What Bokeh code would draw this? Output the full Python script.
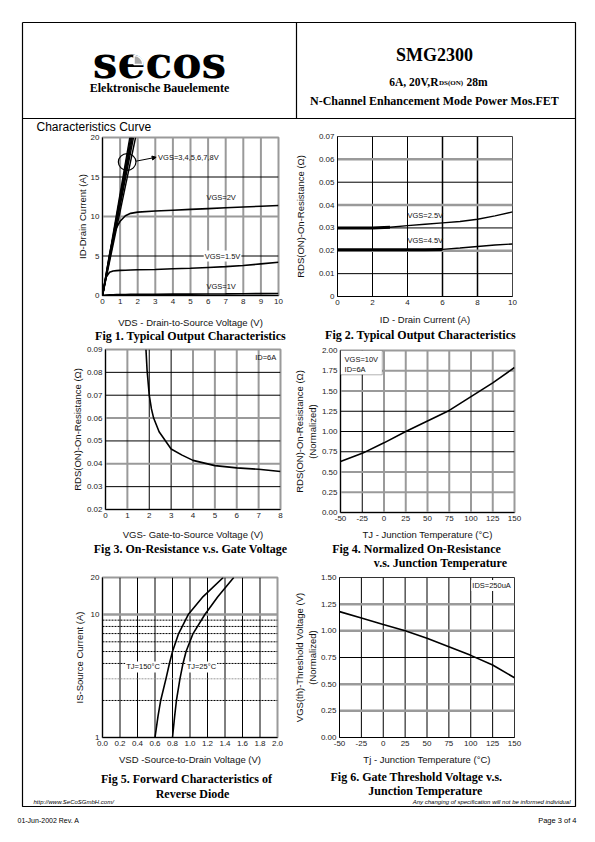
import math
from bokeh.plotting import figure
from bokeh.models import Range1d, Span, Label, FixedTicker, BoxAnnotation, Arrow, NormalHead
from bokeh.core.properties import value
from bokeh.embed import file_html
from bokeh.resources import INLINE

SANS = "Liberation Sans"
SERIF = "Liberation Serif"
GRAY = "#9a9a9a"

# ---------------- data ----------------
# Fig 1  Typical Output Characteristics
fig1_x_ticks = ["0", "1", "2", "3", "4", "5", "6", "7", "8", "9", "10"]
fig1_y_ticks = ["0", "5", "10", "15", "20"]
fig1_vds = [0, 0.2, 0.4, 0.6, 0.8, 1.0, 1.3, 1.6, 2.0, 3.0, 4.0, 5.0, 6.0, 7.0, 8.0, 9.0, 10.0]
fig1_id_vgs2 = [0, 2.6, 5.2, 7.3, 8.6, 9.4, 10.1, 10.4, 10.55, 10.7, 10.8, 10.9, 11.0, 11.1, 11.2, 11.3, 11.4]
fig1_id_vgs15 = [0, 2.3, 2.95, 3.1, 3.15, 3.18, 3.2, 3.22, 3.25, 3.3, 3.38, 3.45, 3.55, 3.65, 3.8, 4.0, 4.2]
fig1_id_vgs1 = [0, 0.05, 0.08, 0.1, 0.11, 0.12, 0.13, 0.14, 0.15, 0.16, 0.17, 0.18, 0.19, 0.2, 0.22, 0.24, 0.26]
fig1_vds_high = [1.55, 1.6, 1.65, 1.7, 1.76, 1.88]   # VGS=3..8V lines reach 20 A here
fig1_id_high = [0, 20]
fig1_labels = ["VGS=3,4,5,6,7,8V", "VGS=2V", "VGS=1.5V", "VGS=1V"]

# Fig 2  RDS(on) vs ID
fig2_x_ticks = ["0", "2", "4", "6", "8", "10"]
fig2_y_ticks = ["0", "0.01", "0.02", "0.03", "0.04", "0.05", "0.06", "0.07"]
fig2_id = [0, 1, 2, 3, 4, 5, 6, 7, 8, 9, 10]
fig2_r_vgs25 = [0.0300, 0.0300, 0.0300, 0.0303, 0.0310, 0.0316, 0.0322, 0.0328, 0.0338, 0.0353, 0.0370]
fig2_r_vgs45 = [0.0205, 0.0205, 0.0205, 0.0205, 0.0205, 0.0205, 0.0206, 0.0212, 0.0219, 0.0225, 0.0230]
fig2_labels = ["VGS=2.5V", "VGS=4.5V"]

# Fig 3  RDS(on) vs VGS
fig3_x_ticks = ["0", "1", "2", "3", "4", "5", "6", "7", "8"]
fig3_y_ticks = ["0.02", "0.03", "0.04", "0.05", "0.06", "0.07", "0.08", "0.09"]
fig3_vgs = [1.85, 1.9, 2.0, 2.1, 2.2, 2.45, 3.0, 3.5, 4.0, 5.0, 6.0, 7.0, 8.0]
fig3_r = [0.090, 0.081, 0.070, 0.064, 0.060, 0.054, 0.0465, 0.0438, 0.0415, 0.0392, 0.0382, 0.0376, 0.0366]
fig3_label = "ID=6A"

# Fig 4  normalized RDS(on) vs TJ
fig4_x_ticks = ["-50", "-25", "0", "25", "50", "75", "100", "125", "150"]
fig4_y_ticks = ["0.00", "0.25", "0.50", "0.75", "1.00", "1.25", "1.50", "1.75", "2.00"]
fig4_tj = [-50, -25, 0, 25, 50, 75, 100, 125, 150]
fig4_r = [0.63, 0.73, 0.86, 1.00, 1.13, 1.26, 1.43, 1.60, 1.79]
fig4_labels = ["VGS=10V", "ID=6A"]

# Fig 5  diode forward characteristics
fig5_x_ticks = ["0.0", "0.2", "0.4", "0.6", "0.8", "1.0", "1.2", "1.4", "1.6", "1.8", "2.0"]
fig5_y_ticks = ["1", "10", "20"]
fig5_y_minor = [2, 3, 4, 5, 6, 7, 8, 9]
fig5_is = [1, 1.5, 2, 3, 4, 5, 7, 10, 14, 20]
fig5_vsd_150 = [0.60, 0.635, 0.665, 0.725, 0.765, 0.80, 0.87, 0.98, 1.15, 1.38]
fig5_vsd_25 = [0.80, 0.825, 0.845, 0.885, 0.92, 0.955, 1.035, 1.17, 1.32, 1.50]
fig5_labels = ["TJ=150°C", "TJ=25°C"]

# Fig 6  normalized VGS(th) vs TJ
fig6_x_ticks = ["-50", "-25", "0", "25", "50", "75", "100", "125", "150"]
fig6_y_ticks = ["0.00", "0.25", "0.50", "0.75", "1.00", "1.25", "1.50"]
fig6_tj = [-50, -25, 0, 25, 50, 75, 100, 125, 150]
fig6_vth = [1.18, 1.12, 1.06, 1.00, 0.93, 0.85, 0.77, 0.68, 0.56]
fig6_label = "IDS=250uA"

# ---------------- helpers ----------------
BL, BT, BR, BB = 60, 6, 8, 45


def make_chart(frame, xticks, yticks, xlabel, ylabel, xs_off, ys_off, y_log=False,
               outline=GRAY, outline_w=2):
    L, T, W, H = frame
    xv = [float(t) for t in xticks]
    yv = [float(t) for t in yticks]
    p = figure(frame_width=W, frame_height=H,
               x_range=Range1d(xv[0], xv[-1]), y_range=Range1d(yv[0], yv[-1]),
               y_axis_type="log" if y_log else "linear",
               output_backend="svg", toolbar_location=None,
               min_border_left=BL, min_border_top=BT, min_border_right=BR, min_border_bottom=BB,
               background_fill_color=None, border_fill_color=None,
               outline_line_color=outline, outline_line_width=outline_w,
               styles={"position": "absolute", "left": f"{L - BL}px", "top": f"{T - BT}px"})
    p.grid.visible = False
    for ax, vals, ticks, lab, off in ((p.xaxis[0], xv, xticks, xlabel, xs_off),
                                      (p.yaxis[0], yv, yticks, ylabel, ys_off)):
        ax.ticker = FixedTicker(ticks=vals, minor_ticks=[])
        ax.major_label_overrides = {v: t for v, t in zip(vals, ticks)}
        ax.major_tick_in = 0
        ax.major_tick_out = 0
        ax.minor_tick_line_color = None
        ax.major_label_text_font = SANS
        ax.major_label_text_font_size = "8px"
        ax.major_label_text_color = "#222222"
        ax.major_label_standoff = 3
        ax.axis_label = lab
        ax.axis_label_text_font = SANS
        ax.axis_label_text_font_size = "9.5px"
        ax.axis_label_text_font_style = "normal"
        ax.axis_label_text_color = "#111111"
        ax.axis_label_standoff = int(off)
        ax.axis_line_color = "black"
        ax.axis_line_width = 1
    return p


def grid(p, dim, locs, colors, widths, dashes=None):
    for i, loc in enumerate(locs):
        p.add_layout(Span(location=loc, dimension=dim, line_color=colors[i],
                          line_width=widths[i],
                          line_dash=(dashes[i] if dashes else "solid"), level="underlay"))


def label(p, x, y, text, align="left", bg=None, size="7.5px"):
    p.add_layout(Label(x=x, y=y, text=text, text_font=SANS, text_font_size=size,
                       text_align=align, text_baseline="middle", text_color="#111111",
                       background_fill_color=bg, padding=1))


def inner(ticks):
    return [float(t) for t in ticks[1:-1]]


# ---------------- Fig 1 ----------------
p1 = make_chart((102, 137, 176, 158), fig1_x_ticks, fig1_y_ticks,
                "VDS - Drain-to-Source Voltage (V)", "ID-Drain Current (A)", 10, 0)
grid(p1, "height", inner(fig1_x_ticks), [GRAY] * 9, [2] * 9)
grid(p1, "width", inner(fig1_y_ticks), ["black", GRAY, "black"], [1, 2, 1])
p1.multi_line(xs=[[0, v] for v in fig1_vds_high], ys=[fig1_id_high] * len(fig1_vds_high),
              line_color="black", line_width=1.4)
for series in (fig1_id_vgs2, fig1_id_vgs15, fig1_id_vgs1):
    p1.line(fig1_vds, series, line_color="black", line_width=1.6)
p1.ellipse(x=1.4, y=16.9, width=1.0, height=2.1, fill_color=None, line_color="black", line_width=1.2)
p1.add_layout(Arrow(x_start=1.9, y_start=17.0, x_end=3.05, y_end=17.5, line_width=1,
                    end=NormalHead(size=4, fill_color="black", line_width=1)))
label(p1, 3.1, 17.5, fig1_labels[0])
label(p1, 5.85, 12.4, fig1_labels[1])
label(p1, 5.75, 5.0, fig1_labels[2], bg="white")
label(p1, 5.85, 1.2, fig1_labels[3])

# ---------------- Fig 2 ----------------
p2 = make_chart((337, 136, 175, 160), fig2_x_ticks, fig2_y_ticks,
                "ID - Drain Current (A)", "RDS(ON)-On-Resistance (Ω)", 6, 10,
                outline="#444444", outline_w=1)
grid(p2, "height", inner(fig2_x_ticks), ["black"] * 4, [1, 1, 1.5, 1.5])
grid(p2, "width", inner(fig2_y_ticks), ["black", GRAY, "black", GRAY, "black", GRAY],
     [1, 2.5, 1, 2.5, 1, 2.5])
p2.line(fig2_id, fig2_r_vgs25, line_color="black", line_width=1.4)
p2.line(fig2_id[:4], fig2_r_vgs25[:4], line_color="black", line_width=3)
p2.line(fig2_id, fig2_r_vgs45, line_color="black", line_width=1.4)
p2.line(fig2_id[:7], fig2_r_vgs45[:7], line_color="black", line_width=3)
label(p2, 3.94, 0.0355, fig2_labels[0])
label(p2, 3.94, 0.0245, fig2_labels[1])

# ---------------- Fig 3 ----------------
p3 = make_chart((105, 349, 175, 160), fig3_x_ticks, fig3_y_ticks,
                "VGS- Gate-to-Source Voltage (V)", "RDS(ON)-On-Resistance (Ω)", 8, 1)
grid(p3, "height", inner(fig3_x_ticks), [GRAY, "black", "black", GRAY, GRAY, GRAY, GRAY],
     [2, 1, 1, 2, 2, 2, 2])
grid(p3, "width", inner(fig3_y_ticks), ["black", GRAY, "black", GRAY, "black", "black"],
     [1, 2, 1, 2, 1, 1])
p3.line(fig3_vgs, fig3_r, line_color="black", line_width=1.6)
label(p3, 7.85, 0.0866, fig3_label, align="right")

# ---------------- Fig 4 ----------------
p4 = make_chart((340, 350, 174, 162), fig4_x_ticks, fig4_y_ticks,
                "TJ - Junction Temperature (°C)", "RDS(ON)-On-Resistance (Ω)\n(Normalized)", 5, 1)
grid(p4, "height", inner(fig4_x_ticks), ["black"] + [GRAY] * 6, [1] + [2] * 6)
grid(p4, "width", inner(fig4_y_ticks), [GRAY, GRAY, "black", "black", "black", GRAY, GRAY],
     [2, 2, 1, 1, 1, 2, 2])
p4.line(fig4_tj, fig4_r, line_color="black", line_width=1.6)
p4.add_layout(BoxAnnotation(left=-50, right=-2, bottom=1.70, top=2.0, fill_color="white",
                            fill_alpha=1, line_color="black", line_width=1))
label(p4, -46.5, 1.89, fig4_labels[0])
label(p4, -46.5, 1.765, fig4_labels[1])

# ---------------- Fig 5 ----------------
p5 = make_chart((102, 577, 175, 160), fig5_x_ticks, fig5_y_ticks,
                "VSD -Source-to-Drain Voltage (V)", "IS-Source Current (A)", 5, 3,
                y_log=True, outline=GRAY, outline_w=2)
grid(p5, "height", inner(fig5_x_ticks), ["black"] * 9, [1] * 9)
grid(p5, "width", fig5_y_minor, ["black", GRAY] + ["black"] * 6, [1] * 8, ["2 1"] * 8)
grid(p5, "width", [float(fig5_y_ticks[1])], [GRAY], [2.5])
p5.line(fig5_vsd_150, fig5_is, line_color="black", line_width=1.6)
p5.line(fig5_vsd_25, fig5_is, line_color="black", line_width=1.6)
label(p5, 0.26, 3.75, fig5_labels[0], bg="white")
label(p5, 0.95, 3.75, fig5_labels[1], bg="white")

# ---------------- Fig 6 ----------------
p6 = make_chart((339, 577, 175, 160), fig6_x_ticks, fig6_y_ticks,
                "Tj - Junction Temperature (°C)", "VGS(th)-Threshold Voltage (V)\n(Normalized)", 5, 0,
                outline="#333333", outline_w=1)
grid(p6, "height", inner(fig6_x_ticks), ["black"] * 7, [1] * 7)
grid(p6, "width", inner(fig6_y_ticks), [GRAY, GRAY, "black", GRAY, GRAY], [2.5, 2.5, 1, 2.5, 2.5])
p6.line(fig6_tj, fig6_vth, line_color="black", line_width=1.6)
label(p6, 147, 1.425, fig6_label, align="right", bg="white")

# ---------------- page ----------------
page = figure(width=579, height=826, x_range=Range1d(8, 587), y_range=Range1d(834, 8),
              output_backend="svg", toolbar_location=None, min_border=0,
              min_border_left=0, min_border_right=0, min_border_top=0, min_border_bottom=0,
              x_axis_location=None, y_axis_location=None, outline_line_color=None,
              styles={"position": "absolute", "left": "8px", "top": "8px"})
page.grid.visible = False
page.multi_line(xs=[[22, 575, 575, 22, 22], [296, 296], [22, 575]],
                ys=[[22, 22, 806, 806, 22], [22, 118], [118, 118]],
                line_color="black", line_width=1.2)

# logo and header
page.text(x=[159], y=[62], text=["secos"], text_font=value("DejaVu Serif"),
          text_font_style="bold", text_font_size="44px", text_align="center",
          text_baseline="middle", text_color="black")
page.wedge(x=[133.5], y=[64], radius=9, start_angle=0, end_angle=math.pi / 2,
           fill_color="#a8a8a8", line_color="white", line_width=1.5)
page.text(x=[159], y=[87], text=["Elektronische Bauelemente"], text_font=value(SERIF),
          text_font_style="bold", text_font_size="12px", text_align="center", text_baseline="middle")
page.text(x=[434], y=[54], text=["SMG2300"], text_font=value(SERIF),
          text_font_style="bold", text_font_size="18px", text_align="center", text_baseline="middle")
page.text(x=[438], y=[81], text=["6A, 20V,R"], text_font=value(SERIF),
          text_font_style="bold", text_font_size="11.5px", text_align="right", text_baseline="middle")
page.text(x=[438.5], y=[82.3], text=["DS(ON)"], text_font=value(SERIF),
          text_font_style="bold", text_font_size="7px", text_align="left", text_baseline="middle")
page.text(x=[466], y=[81], text=["28m"], text_font=value(SERIF),
          text_font_style="bold", text_font_size="11.5px", text_align="left", text_baseline="middle")
page.text(x=[434], y=[100], text=["N-Channel Enhancement Mode Power Mos.FET"], text_font=value(SERIF),
          text_font_style="bold", text_font_size="12px", text_align="center", text_baseline="middle")
page.text(x=[36], y=[126], text=["Characteristics Curve"], text_font=value(SANS),
          text_font_size="12px", text_align="left", text_baseline="middle")

# figure captions
cap_x = [190, 420, 190, 416, 440, 186, 192, 416, 425]
cap_y = [335, 334, 548, 548, 562, 778, 793, 776, 790]
cap_t = ["Fig 1. Typical Output Characteristics", "Fig 2. Typical Output Characteristics",
         "Fig 3. On-Resistance v.s. Gate Voltage", "Fig 4. Normalized On-Resistance",
         "v.s. Junction Temperature", "Fig 5. Forward Characteristics of", "Reverse Diode",
         "Fig 6. Gate Threshold Voltage v.s.", "Junction Temperature"]
page.text(x=cap_x, y=cap_y, text=cap_t, text_font=value(SERIF), text_font_style="bold",
          text_font_size="12px", text_align="center", text_baseline="middle")

# footer
page.text(x=[33], y=[801], text=["http://www.SeCoSGmbH.com/"], text_font=value(SANS),
          text_font_style="italic", text_font_size="6px", text_align="left", text_baseline="middle")
page.text(x=[570], y=[801], text=["Any changing of specification will not be informed individual"],
          text_font=value(SANS), text_font_style="italic", text_font_size="6px",
          text_align="right", text_baseline="middle")
page.text(x=[17], y=[820], text=["01-Jun-2002  Rev. A"], text_font=value(SANS),
          text_font_size="7px", text_align="left", text_baseline="middle")
page.text(x=[576], y=[820], text=["Page 3 of 4"], text_font=value(SANS),
          text_font_size="7.5px", text_align="right", text_baseline="middle")

with open("out.html", "w") as f:
    f.write(file_html([page, p1, p2, p3, p4, p5, p6], INLINE))
